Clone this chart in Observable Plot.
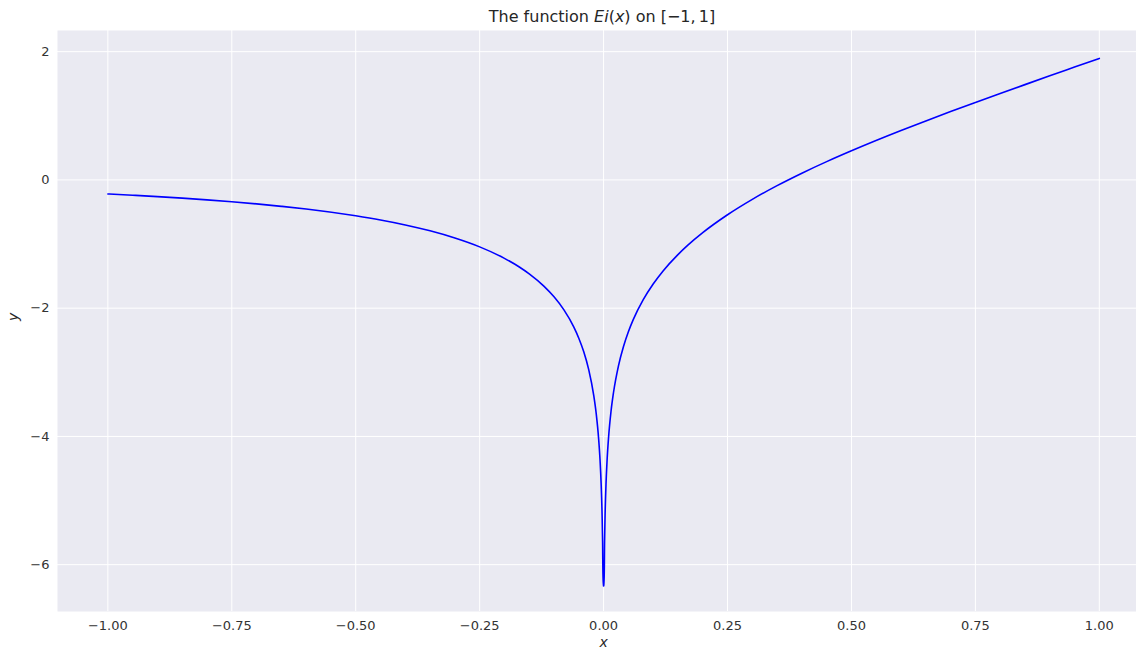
<!DOCTYPE html>
<html>
<head>
<meta charset="utf-8">
<script src="https://cdn.jsdelivr.net/npm/d3@7"></script>
<script src="https://cdn.jsdelivr.net/npm/@observablehq/plot@0.6"></script>
<style>
  html, body { margin: 0; padding: 0; background: #ffffff; }
  #wrap { position: relative; width: 1136px; height: 650px; overflow: hidden; font-family: "DejaVu Sans", sans-serif; }
  #title { position: absolute; top: 7px; left: 602px; transform: translateX(-50%); font-size: 16px; color: #262626; white-space: nowrap; }
  #title i { font-style: italic; }
</style>
</head>
<body>
<div id="wrap">
  <div id="chart"></div>
  <div id="title">The function <i>Ei</i>(<i>x</i>) on [−1,&#8201;1]</div>
</div>
<script>
// Values (Ei(x) on [-1, 1])
const xs = [-1, -0.95, -0.9, -0.85, -0.8, -0.75, -0.7, -0.65, -0.6, -0.5, -0.45, -0.4, -0.35, -0.3, -0.25, -0.2, -0.17, -0.15, -0.12, -0.1, -0.08, -0.06, -0.05, -0.04, -0.03, -0.02, -0.015, -0.01, -0.007, -0.005, -0.003, -0.002, -0.001,
            0.001, 0.002, 0.003, 0.005, 0.007, 0.01, 0.015, 0.02, 0.03, 0.04, 0.05, 0.06, 0.08, 0.1, 0.12, 0.15, 0.17, 0.2, 0.25, 0.3, 0.35, 0.4, 0.45, 0.5, 0.6, 0.65, 0.7, 0.75, 0.8, 0.85, 0.9, 0.95, 1];
const ys = [-0.219, -0.239, -0.260, -0.284, -0.311, -0.340, -0.374, -0.412, -0.454, -0.560, -0.625, -0.702, -0.794, -0.906, -1.044, -1.223, -1.358, -1.465, -1.660, -1.823, -2.027, -2.295, -2.468, -2.681, -2.959, -3.355, -3.637, -4.038, -4.392, -4.726, -5.235, -5.639, -6.332,
            -6.330, -5.635, -5.229, -4.716, -4.378, -4.018, -3.607, -3.315, -2.899, -2.601, -2.368, -2.175, -1.867, -1.623, -1.419, -1.164, -1.017, -0.822, -0.543, -0.303, -0.089, 0.105, 0.285, 0.454, 0.770, 0.919, 1.065, 1.207, 1.347, 1.486, 1.623, 1.759, 1.895];
const xTicks = [-1.0, -0.75, -0.5, -0.25, 0, 0.25, 0.5, 0.75, 1.0];
const yTicks = [-6, -4, -2, 0, 2];

const data = xs.map((x, i) => ({x, y: ys[i]}));
const fmtX = d => (d < 0 ? "−" : "") + Math.abs(d).toFixed(2);
const fmtY = d => (d < 0 ? "−" : "") + Math.abs(d);

const chart = Plot.plot({
  width: 1136,
  height: 650,
  marginLeft: 57,
  marginRight: 0,
  marginTop: 30,
  marginBottom: 39,
  style: { fontFamily: "DejaVu Sans, sans-serif", fontSize: "13px", color: "#333333", background: "#ffffff" },
  x: { domain: [-1.1016, 1.075], ticks: xTicks, label: null },
  y: { domain: [-6.73, 2.33], ticks: yTicks, label: null },
  marks: [
    Plot.frame({ fill: "#eaeaf2", stroke: null }),
    Plot.gridX(xTicks, { stroke: "#ffffff", strokeOpacity: 1, strokeWidth: 1 }),
    Plot.gridY(yTicks, { stroke: "#ffffff", strokeOpacity: 1, strokeWidth: 1 }),
    Plot.axisX(xTicks, { tickSize: 0, tickPadding: 9, tickFormat: fmtX, fontSize: 13 }),
    Plot.axisY(yTicks, { tickSize: 0, tickPadding: 8, tickFormat: fmtY, fontSize: 13 }),
    Plot.line(data, { x: "x", y: "y", stroke: "#0000ff", strokeWidth: 1.6, curve: "monotone-x" }),
    Plot.text(["x"], { frameAnchor: "bottom", x: [0], dy: 35, fontStyle: "italic", fontSize: 14, fill: "#262626" }),
    Plot.text(["y"], { frameAnchor: "left", dx: -44, rotate: -90, fontStyle: "italic", fontSize: 14, fill: "#262626" })
  ]
});
document.getElementById("chart").appendChild(chart);
</script>
</body>
</html>
